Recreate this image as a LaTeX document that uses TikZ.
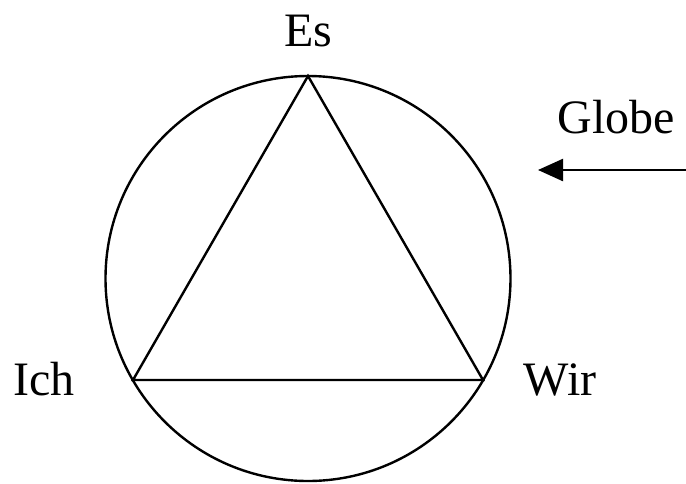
\documentclass[tikz,border=0pt]{standalone}
\usepackage{fontspec}
\setmainfont{Liberation Serif}
\usetikzlibrary{arrows.meta,positioning}

\begin{document}
\begin{tikzpicture}[x=1pt,y=-1pt,line width=2.4pt,
  every node/.style={font=\fontsize{48}{56}\selectfont,inner sep=0pt},
  >={Triangle[length=25pt,width=22pt]}]
  \useasboundingbox (0,0) rectangle (686,483);
  % globe with the triangle inside
  \coordinate (centre) at (308,278.5);
  \coordinate (top) at (308,76);
  \coordinate (left) at (133,380);
  \coordinate (right) at (483,380);
  \draw (centre) circle[radius=202.5pt];
  \draw[line join=miter] (top) -- (left) -- (right) -- cycle;
  \node[anchor=base] (es) at (308,46) {Es};
  \node[anchor=base] (ich) at (44,395) {Ich};
  \node[anchor=base] (wir) at (560,395) {Wir};
  \node[anchor=base] (globe) at (616,133) {Globe};
  % arrow from outside
  \coordinate (arrstart) at (686,170);
  \coordinate (arrend) at (538,170);
  \draw[->] (arrstart) -- (arrend);
\end{tikzpicture}
\end{document}
